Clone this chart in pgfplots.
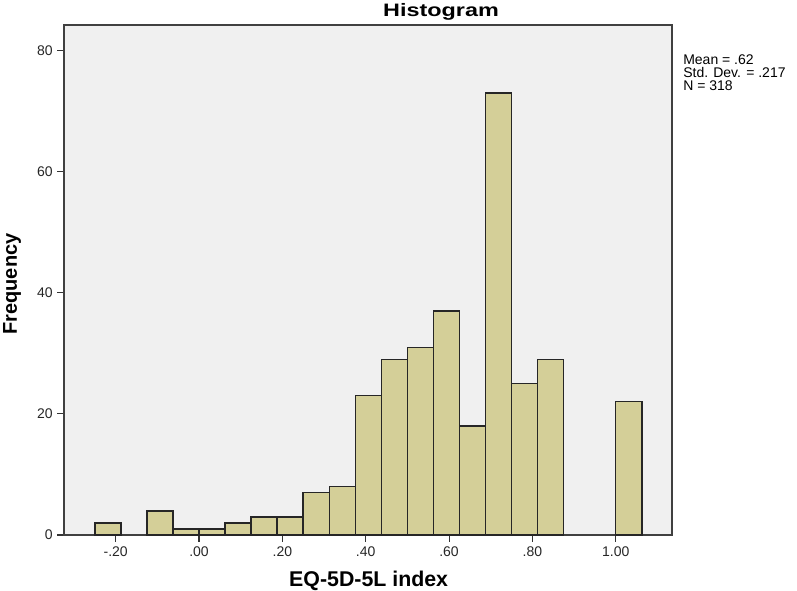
\documentclass[border=0pt]{standalone}
\usepackage{pgfplots}
\pgfplotsset{compat=1.18}
\usepackage{fontspec}
\setmainfont{Liberation Sans}
\definecolor{barfill}{RGB}{212,207,152}
\definecolor{plotbg}{RGB}{240,240,240}
\begin{document}
\begin{tikzpicture}
\useasboundingbox (-48pt,-41.25pt) rectangle (549.75pt,401.25pt);
\begin{axis}[
  at={(0,0)}, anchor=south west,
  scale only axis,
  width=456pt, height=382.5pt,
  xmin=-0.324, xmax=1.135,
  ymin=0, ymax=84.2,
  axis background/.style={fill=plotbg},
  axis line style={black!75, line width=0.9pt},
  xtick={-0.2,0,0.2,0.4,0.6,0.8,1.0},
  xticklabels={-.20,.00,.20,.40,.60,.80,1.00},
  ytick={0,20,40,60,80},
  tick pos=lower,
  tick align=outside,
  major tick length=5pt,
  tick style={black!80, line width=0.8pt},
  ticklabel style={font=\fontsize{10.5}{12}\selectfont, text=black!85},
  /pgf/number format/assume math mode=true,
  clip=false,
]
\addplot[ybar, bar width=0.0625, bar shift=0pt, fill=barfill, draw=black!85, line width=1.1pt]
coordinates {
(-0.21875,2) (-0.09375,4) (-0.03125,1) (0.03125,1) (0.09375,2) (0.15625,3)
(0.21875,3) (0.28125,7) (0.34375,8) (0.40625,23) (0.46875,29) (0.53125,31)
(0.59375,37) (0.65625,18) (0.71875,73) (0.78125,25) (0.84375,29) (1.03125,22)
};
\end{axis}
\node[font=\fontsize{13.5}{16}\selectfont\bfseries, anchor=base, inner sep=0pt] at (282.75pt,388.5pt) {\scalebox{1.3}[1]{Histogram}};
\node[font=\fontsize{16}{19}\selectfont\bfseries, anchor=base, inner sep=0pt] at (228.5pt,-38.8pt) {EQ-5D-5L index};
\node[font=\fontsize{15}{18}\selectfont\bfseries, anchor=base, rotate=90, inner sep=0pt] at (-35.25pt,188.25pt) {Frequency};
\node[anchor=base west, align=left, inner sep=0pt, font=\fontsize{10.5}{9.75}\selectfont] at (464.25pt,333.2pt) {Mean = .62\\[0pt]Std. Dev. = .217\\[0pt]N = 318};
\end{tikzpicture}
\end{document}
